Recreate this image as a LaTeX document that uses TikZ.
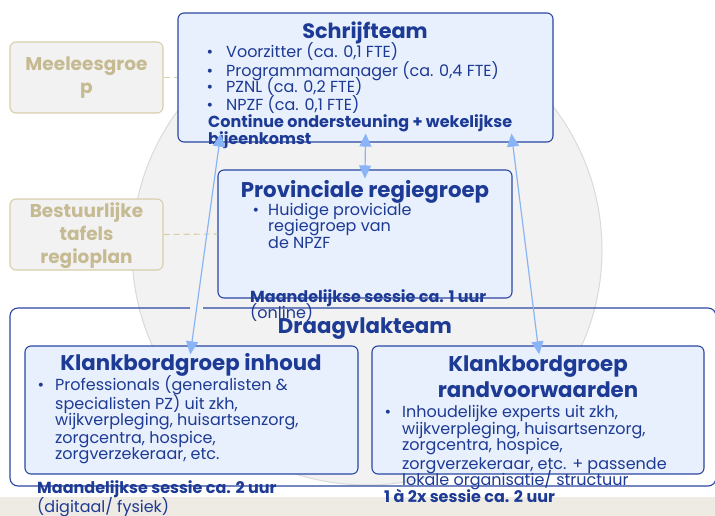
\documentclass[tikz,border=0pt]{standalone}
\usepackage{fontspec}
\setmainfont{Poppins}
\usetikzlibrary{arrows.meta,calc}
\definecolor{tblue}{HTML}{1D3A94}
\definecolor{bborder}{HTML}{2B47A3}
\definecolor{bfill}{HTML}{E8F0FD}
\definecolor{tan}{HTML}{C6BA92}
\definecolor{tanborder}{HTML}{D9CEA9}
\definecolor{gfill}{HTML}{F2F2F2}
\definecolor{gline}{HTML}{DADADA}
\definecolor{arrblue}{HTML}{8AB4F8}
\definecolor{band}{HTML}{EEEAE4}
\tikzset{
  x=1pt,y=-1pt,
  box/.style={draw=bborder,fill=bfill,rounded corners=6pt,line width=1.1pt,inner sep=0pt},
  tanbox/.style={draw=tanborder,fill=gfill,rounded corners=6pt,line width=1.1pt,inner sep=0pt},
  txt/.style={anchor=base west,inner sep=0pt,text=tblue,font=\fontsize{16}{18}\selectfont},
  btxt/.style={txt,font=\fontsize{16}{18}\selectfont\bfseries},
  title/.style={anchor=base,inner sep=0pt,text=tblue,font=\fontsize{21.3}{24}\selectfont\bfseries},
  tantxt/.style={anchor=base,inner sep=0pt,text=tan,font=\fontsize{18.5}{20}\selectfont\bfseries},
  bul/.style={anchor=base,inner sep=0pt,text=tblue,font=\fontsize{16}{18}\selectfont},
  arr/.style={draw=arrblue,line width=1.2pt,shorten <=-9pt,shorten >=-9pt,
    {Triangle[width=12pt,length=13pt]}-{Triangle[width=12pt,length=13pt]}},
  dsh/.style={draw=tanborder,line width=1.1pt,dash pattern=on 6pt off 4pt},
}
\begin{document}
\begin{tikzpicture}
\useasboundingbox (0,0) rectangle (715,516);
\fill[white] (0,0) rectangle (715,516);
\fill[band] (0,497) rectangle (715,516);
% background circle
\draw[gline,fill=gfill,line width=1pt] (367,250) circle[radius=235];
% outer Draagvlakteam frame
\node[draw=bborder,rounded corners=8pt,line width=1.1pt,inner sep=0pt,minimum width=706pt,minimum height=178pt] (draag) at (363,397) {};
\draw[gfill,line width=3pt] (190,307.5) -- (203,307.5);
% side boxes
\node[tanbox,minimum width=153pt,minimum height=71pt] (mee) at (86.5,77.5) {};
\node[tanbox,minimum width=153pt,minimum height=71pt] (best) at (86.5,234.5) {};
% main boxes
\node[box,minimum width=375pt,minimum height=129pt] (schrijf) at (365.5,77.5) {};
\node[box,minimum width=294pt,minimum height=128pt] (prov) at (365,234) {};
\node[box,minimum width=333pt,minimum height=128pt] (inh) at (191.5,410) {};
\node[box,minimum width=332pt,minimum height=128pt] (rand) at (538,410) {};
% dashed connectors
\draw[dsh] (mee.east) -- (schrijf.west);
\draw[dsh] (best.east) -- (prov.west);
% side box texts
\node[tantxt] (m1) at (86.5,71) {Meeleesgroe};
\node[tantxt] (m2) at (86.5,93.5) {p};
\node[tantxt] (b1) at (86.5,217) {Bestuurlijke};
\node[tantxt] (b2) at (86.5,240) {tafels};
\node[tantxt] (b3) at (86.5,263) {regioplan};
% Schrijfteam
\node[title,font=\fontsize{20.8}{24}\selectfont\bfseries] (st) at (365,39) {Schrijfteam};
\foreach \y/\t [count=\i] in {58/{Voorzitter (ca. 0,1 FTE)},76.5/{Programmamanager (ca. 0,4 FTE)},93/{PZNL (ca. 0,2 FTE)},111/{NPZF (ca. 0,1 FTE)}}{
  \node[bul] (sb\i) at (210,\y) {•};
  \node[txt] (sl\i) at (226,\y) {\t};
}
\node[btxt] (sc1) at (208,127.5) {Continue ondersteuning + wekelijkse};
\node[btxt] (sc2) at (208,145) {bijeenkomst};
% Provinciale
\node[title] (pt) at (365,197) {Provinciale regiegroep};
\node[bul] (pb1) at (256,215) {•};
\foreach \y/\t [count=\i] in {215/{Huidige proviciale},231.5/{regiegroep van},248/{de NPZF}}{
  \node[txt] (pl\i) at (268,\y) {\t};
}
\node[btxt] (pm1) at (250,302) {Maandelijkse sessie ca. 1 uur};
\node[txt] (pm2) at (250,318) {(online)};
% Draagvlakteam
\node[title] (dt) at (365,333) {Draagvlakteam};
% Klankbordgroep inhoud
\node[title] (it) at (191,370) {Klankbordgroep inhoud};
\node[bul] (ib1) at (41,390) {•};
\foreach \y/\t [count=\i] in {390/{Professionals (generalisten \&},409/{specialisten PZ) uit zkh,},425.7/{wijkverpleging, huisartsenzorg,},443/{zorgcentra, hospice,},459/{zorgverzekeraar, etc.}}{
  \node[txt] (il\i) at (55,\y) {\t};
}
% Klankbordgroep randvoorwaarden
\node[title] (rt1) at (538,371) {Klankbordgroep};
\node[title] (rt2) at (538,397.7) {randvoorwaarden};
\node[bul] (rb1) at (388,417) {•};
\foreach \y/\t [count=\i] in {417/{Inhoudelijke experts uit zkh,},434/{wijkverpleging, huisartsenzorg,},450/{zorgcentra, hospice,},469/{zorgverzekeraar, etc. + passende},485/{lokale organisatie/ structuur}}{
  \node[txt] (rl\i) at (402,\y) {\t};
}
% bottom notes
\node[btxt] (n1) at (37,493) {Maandelijkse sessie ca. 2 uur};
\node[txt] (n2) at (37,512) {(digitaal/ fysiek)};
\node[btxt] (n3) at (384,502) {1 à 2x sessie ca. 2 uur};
% arrows
\draw[arr] (schrijf.south) -- (prov.north);
\draw[arr] (inh.north) -- ($(schrijf.south west)+(42,0)$);
\draw[arr] (rand.north) -- ($(schrijf.south east)+(-41,0)$);
\end{tikzpicture}
\end{document}
